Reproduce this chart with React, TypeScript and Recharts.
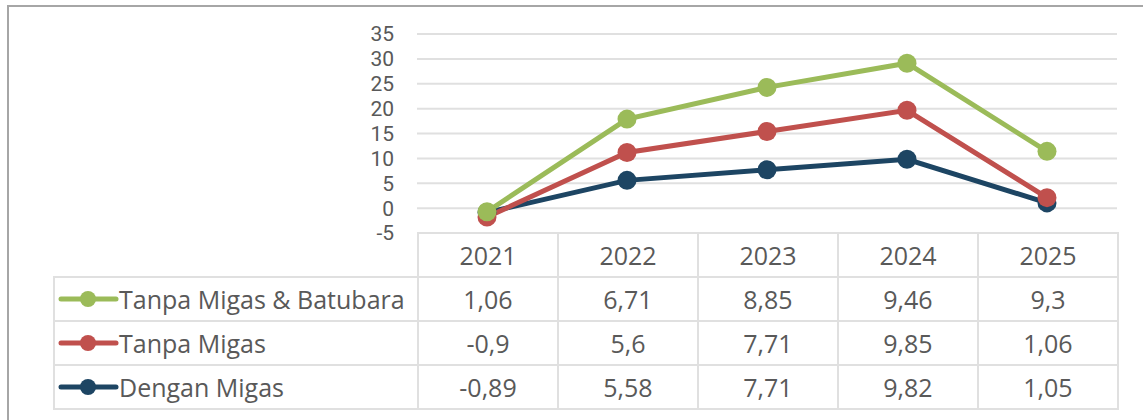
import React from "react";
import { AreaChart, Area, XAxis, YAxis, CartesianGrid } from "recharts";

const years = ["2021", "2022", "2023", "2024", "2025"];
const denganMigas = [-0.89, 5.58, 7.71, 9.82, 1.05];
const tanpaMigas = [-0.9, 5.6, 7.71, 9.85, 1.06];
const tanpaMigasBatubara = [1.06, 6.71, 8.85, 9.46, 9.3];
const yTicks = [-5, 0, 5, 10, 15, 20, 25, 30, 35];

const series = [
  { key: "batubara", name: "Tanpa Migas & Batubara", color: "#9BBB59", values: tanpaMigasBatubara },
  { key: "migas", name: "Tanpa Migas", color: "#C0504D", values: tanpaMigas },
  { key: "dengan", name: "Dengan Migas", color: "#1D4563", values: denganMigas },
];

const data = years.map((year, i) => ({
  year,
  dengan: denganMigas[i],
  migas: tanpaMigas[i],
  batubara: tanpaMigasBatubara[i],
}));

const FONT = "'Open Sans', 'Noto Sans', sans-serif";
const TICK_FONT = "Roboto, 'Open Sans', sans-serif";
const TEXT = "#595959";
const GRID = "#e0e0e0";

const fmt = (v: number) => String(v).replace(".", ",");

function Marker({ color }: { color: string }) {
  return (
    <svg width={64} height={20} style={{ display: "block", flex: "none" }}>
      <line x1={6} y1={10} x2={61} y2={10} stroke={color} strokeWidth={5} strokeLinecap="round" />
      <circle cx={33} cy={10} r={8} fill={color} />
    </svg>
  );
}

const makeDot = (color: string) => (props: any) => {
  const { cx, cy, index } = props;
  if (cx == null || cy == null) return <g key={index} />;
  return <circle key={index} cx={cx} cy={cy} r={9.5} fill={color} />;
};

export default function App() {
  const cell: React.CSSProperties = {
    border: `2px solid ${GRID}`,
    textAlign: "center",
    padding: 0,
    color: TEXT,
    whiteSpace: "nowrap",
  };
  return (
    <div
      style={{
        position: "fixed",
        left: 0,
        top: 0,
        width: 1143,
        height: 420,
        overflow: "hidden",
        background: "#fff",
        fontFamily: FONT,
      }}
    >
      <div
        style={{
          position: "absolute",
          left: 7,
          top: 5,
          width: 1300,
          height: 600,
          borderLeft: "2px solid #a6a6a6",
          borderTop: "2px solid #a6a6a6",
        }}
      />
      <div style={{ position: "absolute", left: 0, top: 0 }}>
        <AreaChart
          width={1143}
          height={420}
          data={data}
          margin={{ top: 34, right: 26, bottom: 187, left: 357 }}
        >
          <CartesianGrid vertical={false} stroke={GRID} strokeWidth={2} />
          <XAxis dataKey="year" hide padding={{ left: 70, right: 70 }} />
          <YAxis
            width={60}
            domain={[-5, 35]}
            ticks={yTicks}
            interval={0}
            axisLine={false}
            tickLine={false}
            tickMargin={17}
            tick={{ fill: TEXT, fontSize: 21, fontFamily: TICK_FONT }}
          />
          {[...series].reverse().map((s) => (
            <Area
              key={s.key}
              type="linear"
              dataKey={s.key}
              stackId="a"
              stroke={s.color}
              strokeWidth={5}
              fill="none"
              fillOpacity={0}
              dot={makeDot(s.color)}
              activeDot={false}
              isAnimationActive={false}
            />
          ))}
        </AreaChart>
      </div>
      <table
        style={{
          position: "absolute",
          left: 53,
          top: 232,
          width: 1066,
          tableLayout: "fixed",
          borderCollapse: "collapse",
          fontSize: 25,
          fontFamily: FONT,
          color: TEXT,
        }}
      >
        <colgroup>
          <col style={{ width: 364 }} />
          {years.map((y) => (
            <col key={y} style={{ width: 140 }} />
          ))}
        </colgroup>
        <tbody>
          <tr style={{ height: 44 }}>
            <td style={{ padding: 0, border: "none" }} />
            {years.map((y) => (
              <td key={y} style={cell}>
                {y}
              </td>
            ))}
          </tr>
          {series.map((s) => (
            <tr key={s.key} style={{ height: 44 }}>
              <td style={{ ...cell, textAlign: "left" }}>
                <div style={{ display: "flex", alignItems: "center" }}>
                  <Marker color={s.color} />
                  <span>{s.name}</span>
                </div>
              </td>
              {s.values.map((v, i) => (
                <td key={i} style={cell}>
                  {fmt(v)}
                </td>
              ))}
            </tr>
          ))}
        </tbody>
      </table>
    </div>
  );
}
